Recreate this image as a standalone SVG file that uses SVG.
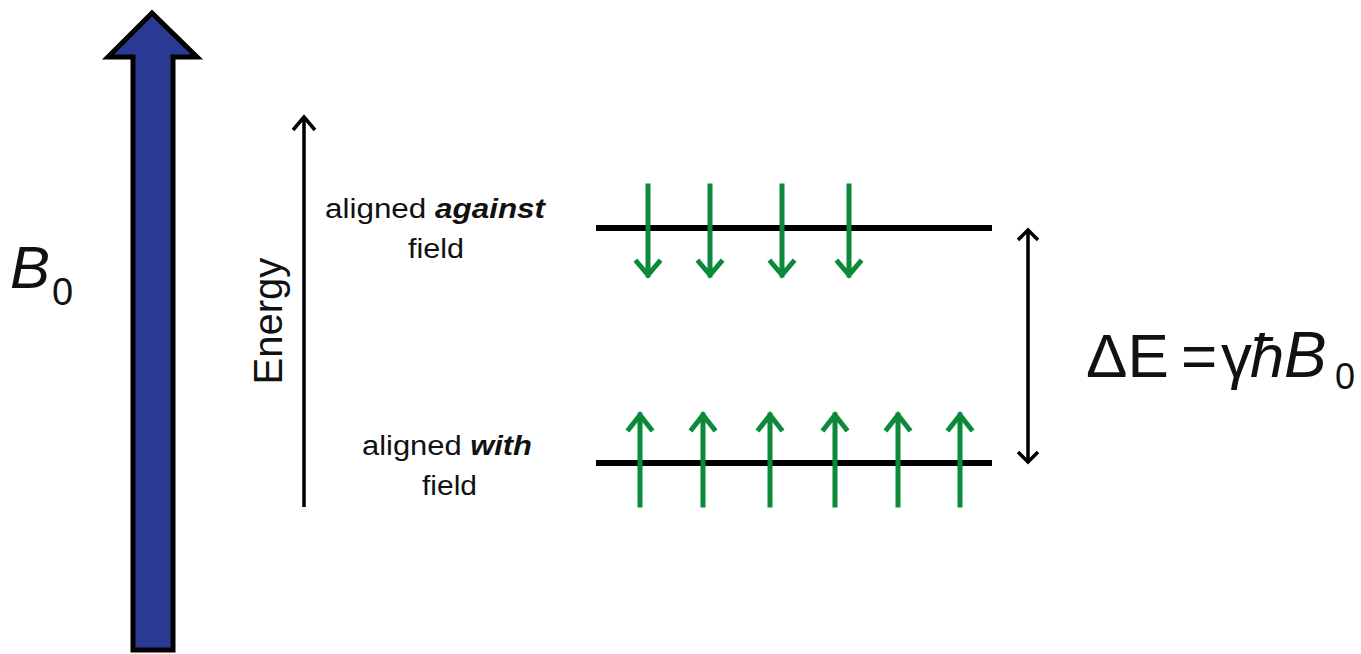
<svg xmlns="http://www.w3.org/2000/svg" width="1361" height="654" viewBox="0 0 1361 654">
<style>
.t{font-family:"Liberation Sans",Arial,sans-serif;fill:#111}
.lb{font-size:27px}
.eq{font-size:62px}
.lvl{stroke:#000;stroke-width:6}
.g{stroke:#0b8a3a;stroke-width:5;fill:none;stroke-linecap:square}
.k{stroke:#000;stroke-width:3.5;fill:none}
</style>
<rect width="1361" height="654" fill="#fff"/>
<g id="b0arrow">
<path d="M152,13 L197,57 L173,57 L173,650 L133,650 L133,57 L108,57 Z" fill="#2a3a93" stroke="#000" stroke-width="5" stroke-linejoin="miter"/>
</g>
<g id="b0label">
<text class="t" x="10" y="288" font-size="60" font-style="italic">B</text>
<text class="t" x="52" y="305" font-size="38">0</text>
</g>
<g id="energy">
<text class="t" x="0" y="0" font-size="40" transform="translate(282,321) rotate(-90)" text-anchor="middle">Energy</text>
</g>
<g id="upper-label">
<text class="t lb" x="325" y="218" textLength="220" lengthAdjust="spacingAndGlyphs">aligned <tspan font-weight="bold" font-style="italic">against</tspan></text>
<text class="t lb" x="408" y="258" textLength="56" lengthAdjust="spacingAndGlyphs">field</text>
</g>
<g id="lower-label">
<text class="t lb" x="362" y="455" textLength="170" lengthAdjust="spacingAndGlyphs">aligned <tspan font-weight="bold" font-style="italic">with</tspan></text>
<text class="t lb" x="422" y="495" textLength="55" lengthAdjust="spacingAndGlyphs">field</text>
</g>
<g id="upper-level">
<line class="lvl" x1="596" y1="228" x2="992" y2="228"/>
</g>
<g id="lower-level">
<line class="lvl" x1="596" y1="463" x2="992" y2="463"/>
</g>
<g id="equation">
<text class="t eq" x="1086" y="377">ΔE</text>
<text class="t eq" x="1181" y="377">=</text>
<text class="t eq" x="1221" y="377">γ</text>
<text class="t eq" x="1250" y="377" font-style="italic">ħ</text>
<text class="t" x="1284" y="377" font-size="64" font-style="italic">B</text>
<text class="t" x="1335" y="389" font-size="36">0</text>
</g>
<g id="connectors">
<path class="k" d="M304,507 L304,117 M293,130 L304,117 L315,130"/>
<path class="k" d="M1028,230 L1028,462 M1018,240 L1028,230 L1038,240 M1018,452 L1028,462 L1038,452"/>
<g class="g">
<path d="M648,186 L648,275 M637,262 L648,275 L659,262"/>
<path d="M710,186 L710,275 M699,262 L710,275 L721,262"/>
<path d="M782,186 L782,275 M771,262 L782,275 L793,262"/>
<path d="M849,186 L849,275 M838,262 L849,275 L860,262"/>
<path d="M640,505 L640,415 M629,429 L640,415 L651,429"/>
<path d="M703,505 L703,415 M692,429 L703,415 L714,429"/>
<path d="M770,505 L770,415 M759,429 L770,415 L781,429"/>
<path d="M835,505 L835,415 M824,429 L835,415 L846,429"/>
<path d="M898,505 L898,415 M887,429 L898,415 L909,429"/>
<path d="M960,505 L960,415 M949,429 L960,415 L971,429"/>
</g>
</g>
</svg>
